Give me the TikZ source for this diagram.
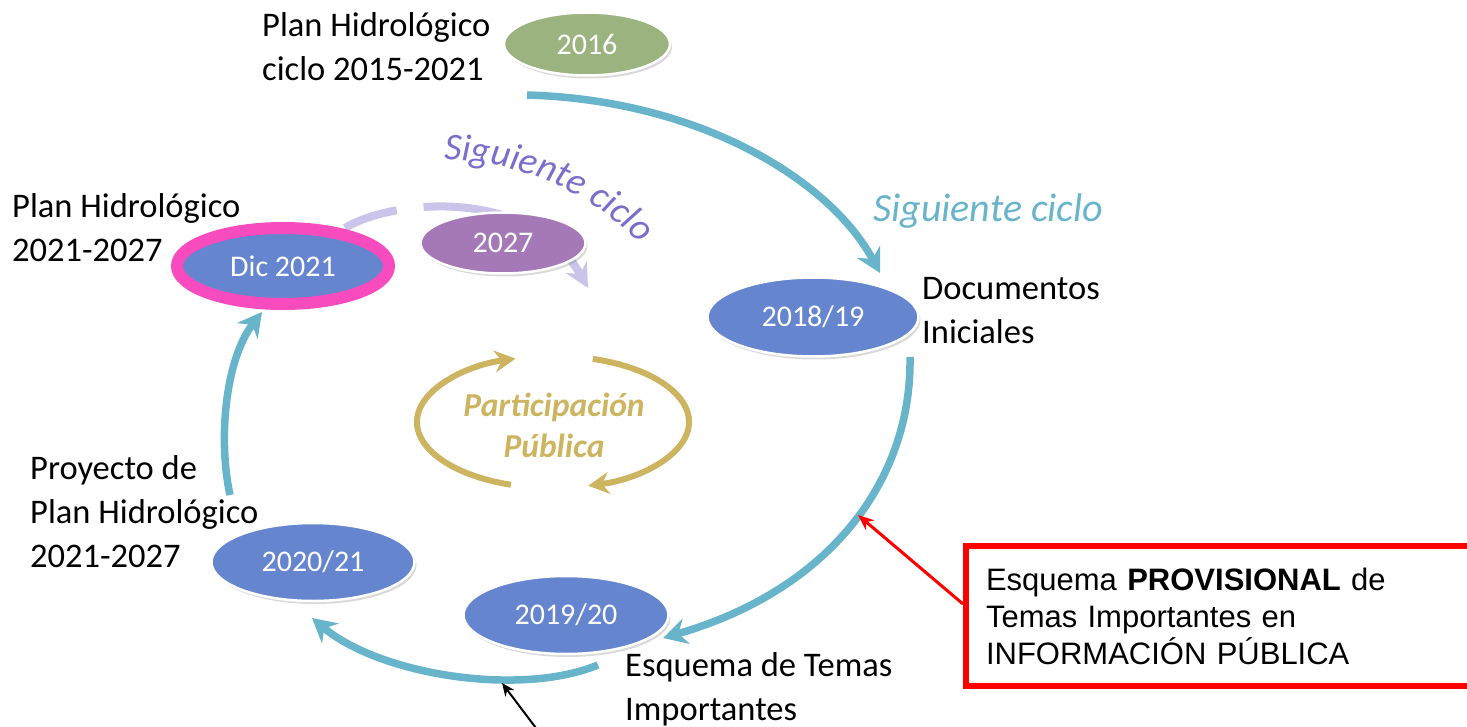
\documentclass[tikz,border=0pt]{standalone}
\usepackage{fontspec}
\setmainfont{Carlito}
\newfontfamily\arialfont{Liberation Sans}
\usetikzlibrary{shapes.geometric, arrows.meta, shadows, backgrounds, decorations.text, calc}

\definecolor{cycleblue}{RGB}{104,180,202}
\definecolor{stageblue}{RGB}{102,133,207}
\definecolor{stagegreen}{RGB}{155,179,127}
\definecolor{stagepurple}{RGB}{165,121,183}
\definecolor{planpink}{RGB}{248,76,190}
\definecolor{nextlilac}{RGB}{202,196,234}
\definecolor{nexttext}{RGB}{122,110,204}
\definecolor{partgold}{RGB}{204,180,96}

\tikzset{%
  stage/.style={ellipse, draw=white, line width=2.5pt, text=white, inner sep=0pt,
    font=\fontsize{30}{36}\selectfont,
    drop shadow={shadow xshift=2pt, shadow yshift=-3pt, opacity=0.3}}, % the year bubbles
  caption/.style={anchor=west, align=left, inner xsep=0pt, font=\fontsize{34.5}{44}\selectfont},
  cycle/.style={draw=cycleblue, line width=7.5pt,
    -{Stealth[length=24pt, width=26pt, inset=8pt]}},
  nextcycle/.style={draw=nextlilac, line width=8pt,
    -{Stealth[length=24pt, width=24pt, inset=8pt]}},
  partarrow/.style={draw=partgold, line width=6pt,
    -{Stealth[length=21pt, width=22pt, inset=7pt]}},
  provbox/.style={draw=red, line width=6pt, align=left, inner xsep=11pt,
    font=\arialfont\fontsize{31}{37}\selectfont}
}

\begin{document}
\begin{tikzpicture}[x=1pt, y=-1pt]
    \useasboundingbox (0,0) rectangle (1467,727);

    % year bubbles
    \node[stage, fill=stagegreen, minimum width=166pt, minimum height=63pt] (n2016) at (587,44) {2016};
    \node[stage, fill=stageblue, minimum width=211pt, minimum height=79pt] (n1819) at (813,317) {2018/19};
    \node[stage, fill=stageblue, minimum width=205pt, minimum height=78pt] (n1920) at (566,615) {2019/20};
    \node[stage, fill=stageblue, minimum width=203pt, minimum height=78pt] (n2021) at (313,562) {2020/21};
    \node[stage, fill=stageblue, draw=planpink, line width=12pt, minimum width=212pt, minimum height=76pt] (ndic) at (283,266) {Dic 2021};
    \node[stage, fill=stagepurple, minimum width=165pt, minimum height=61pt] (n2027) at (503,243) {2027};

    % captions
    \node[caption] (lab2016) at (262,47) {Plan Hidrológico\\ciclo 2015-2021};
    \node[caption] (lab1819) at (922,311) {Documentos\\Iniciales};
    \node[caption] (lab1920) at (625,689) {Esquema de Temas\\Importantes};
    \node[caption] (lab2021) at (30,512) {Proyecto de\\Plan Hidrológico\\2021-2027};
    \node[caption] (labdic) at (12,228) {Plan Hidrológico\\2021-2027};
    \node[anchor=west, inner xsep=0pt, text=cycleblue, font=\fontsize{40}{44}\selectfont\itshape] (next) at (873,211) {Siguiente ciclo};
    \node[align=center, text=partgold, font=\fontsize{33.5}{41}\selectfont\bfseries\itshape] (part) at (554,425) {Participación\\Pública};

    % free ends of the cycle arrows
    \coordinate (out2016) at (527,95);
    \coordinate (in1819) at (880,273);
    \coordinate (out1819) at (910,357);
    \coordinate (in1920) at (663,638);
    \coordinate (out1920) at (598,665);
    \coordinate (in2021) at (312,618);
    \coordinate (out2021) at (230,495);
    \coordinate (indic) at (262,312);
    \coordinate (outdic) at (345,228);
    \coordinate (in2027) at (588,288);

    \draw[cycle] (out2016) .. controls (700,100) and (830,180) .. (in1819);
    \draw[cycle] (out1819) .. controls (912,480) and (830,590) .. (in1920);
    \draw[cycle] (out1920) .. controls (520,697) and (380,675) .. (in2021);
    \draw[cycle] (out2021) .. controls (218,440) and (225,360) .. (indic);

    \begin{scope}[on background layer]
      \draw[nextcycle, dash pattern=on 55pt off 27pt on 600pt] (outdic) .. controls (390,200) and (530,185) .. (in2027);
    \end{scope}
    \path[decorate, decoration={text along path, text align=center,
        text={|\fontsize{38}{44}\selectfont\itshape\color{nexttext}|Siguiente ciclo}}]
      ([shift={(-95:276)}]442,436) arc[start angle=-95, end angle=-38.6, radius=276];

    % public participation loop
    \draw[partarrow] ([shift={(108:136 and 66)}]553,422) arc[start angle=108, end angle=254, x radius=136, y radius=66];
    \draw[partarrow] ([shift={(-73:136 and 66)}]553,422) arc[start angle=-73, end angle=75, x radius=136, y radius=66];

    % call-outs
    \node[provbox, anchor=north west, minimum width=540pt, minimum height=140pt, text width=500pt] (prov) at (963,543)
      {Esquema \textbf{PROVISIONAL} de\\Temas Importantes en\\INFORMACIÓN PÚBLICA};
    \coordinate (onarc) at (858,515);
    \draw[red, line width=3pt, -{Stealth[length=16pt, width=13pt]}] ([yshift=12pt]prov.west) -- (onarc);
    \coordinate (below) at (545,740);
    \coordinate (onbottom) at (502,683);
    \draw[black, line width=2pt, -{Stealth[length=13pt, width=11pt]}] (below) -- (onbottom);
\end{tikzpicture}
\end{document}
